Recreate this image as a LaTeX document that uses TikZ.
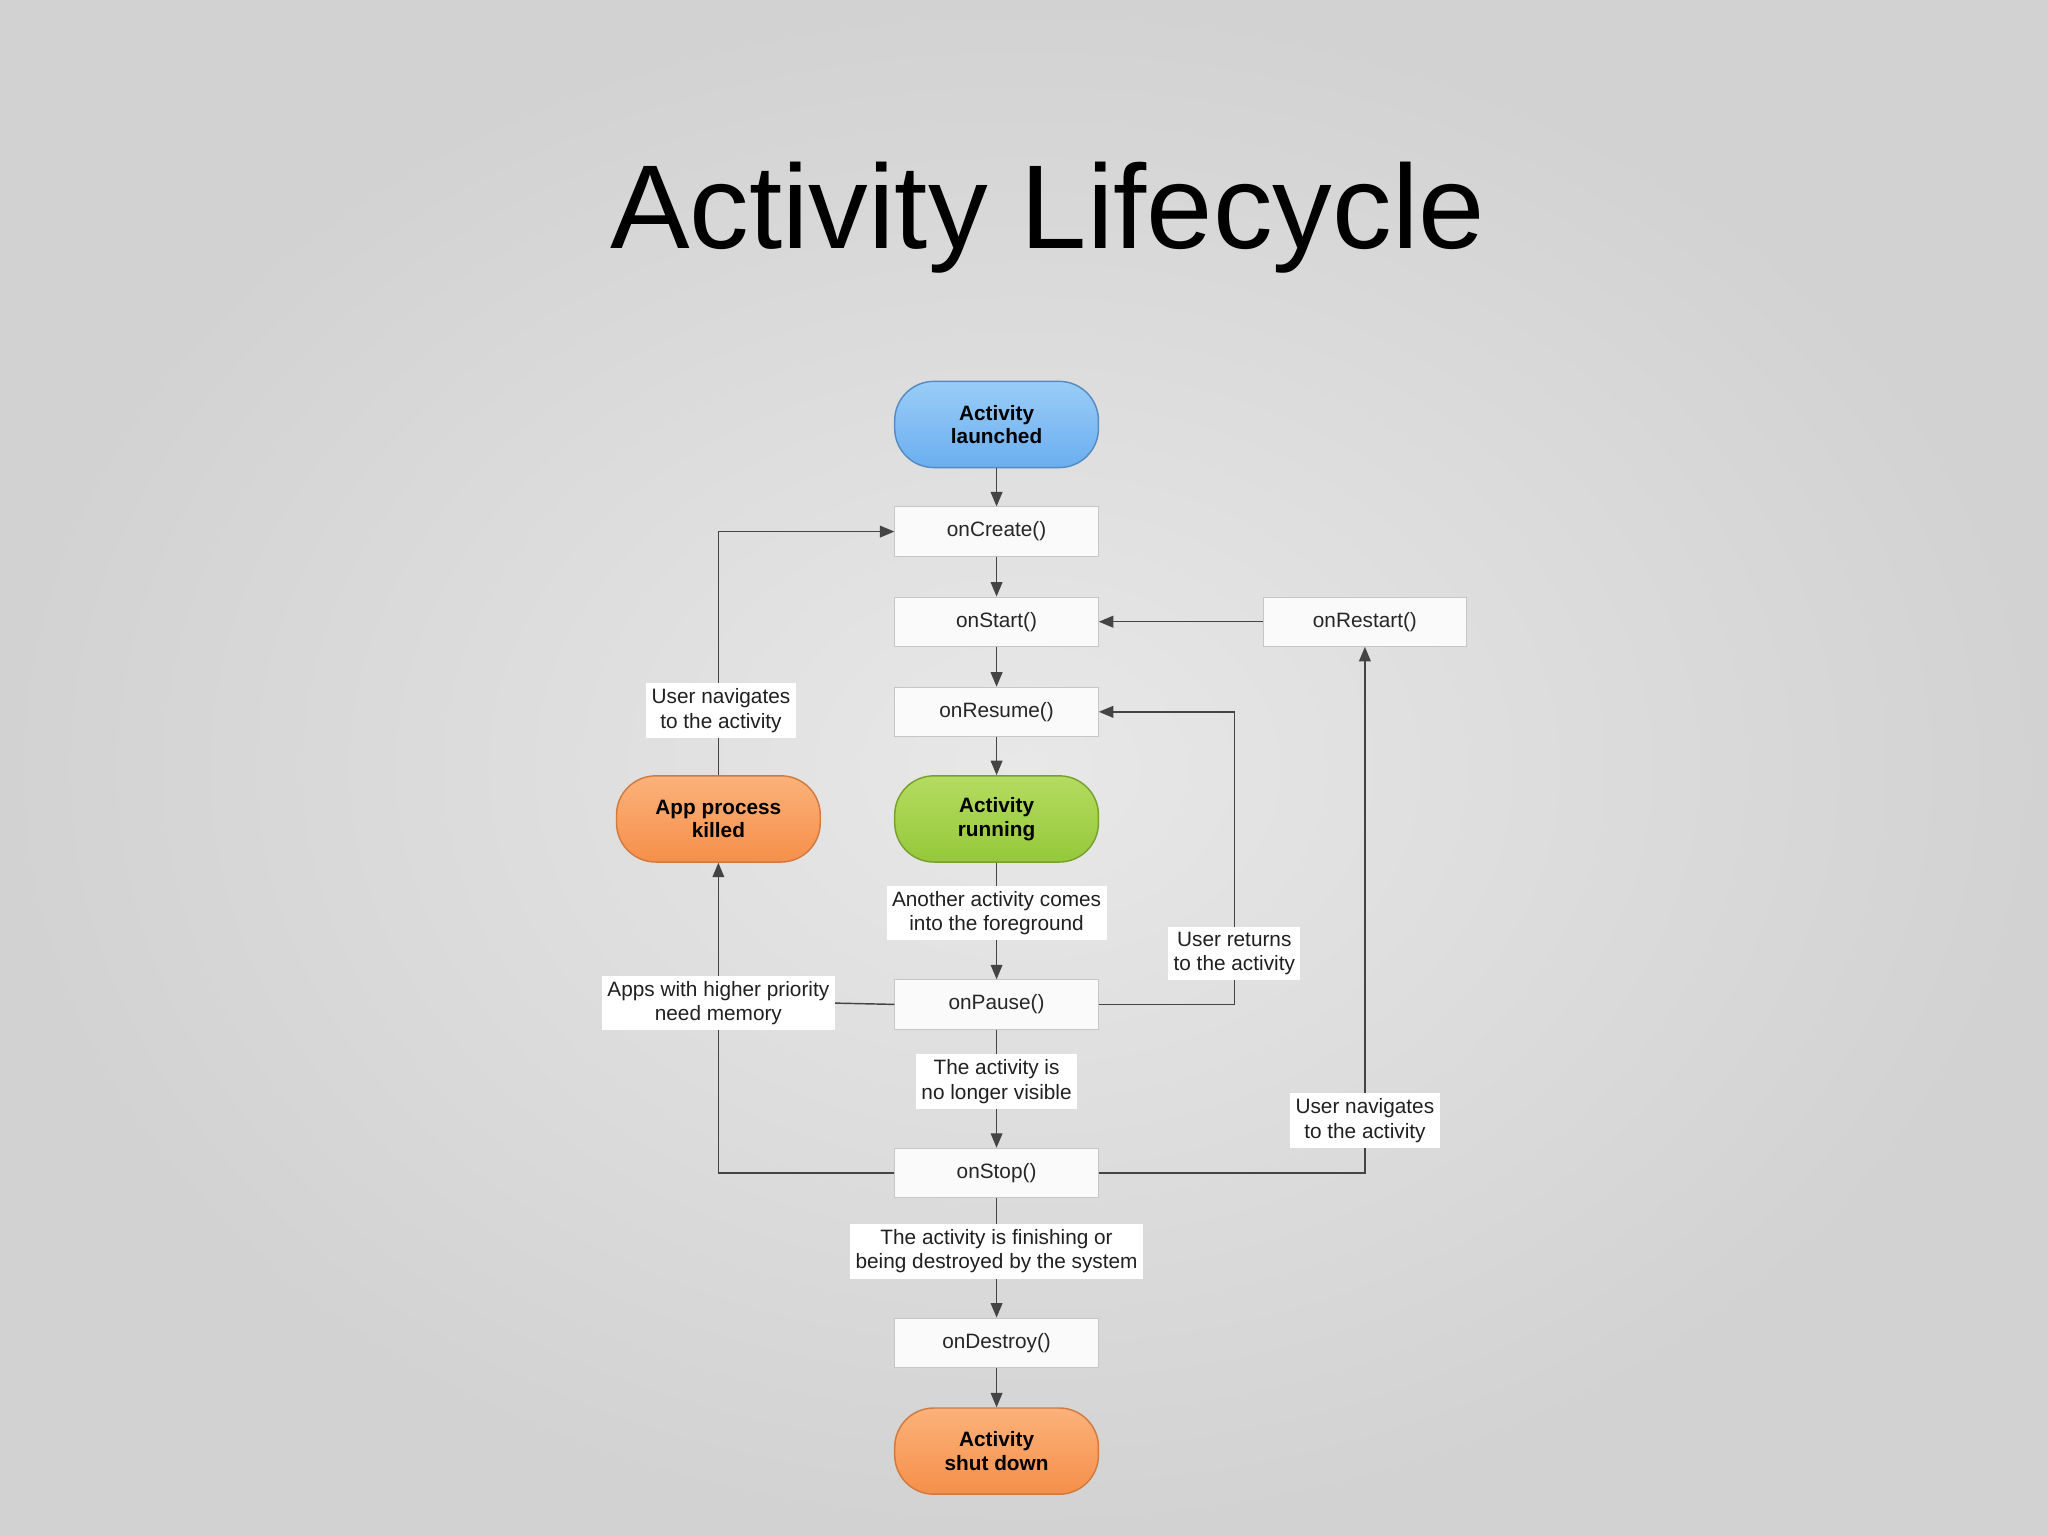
\documentclass[tikz,border=0pt]{standalone}
\usepackage{fontspec}
\setmainfont{Liberation Sans}
\usetikzlibrary{arrows.meta}
\newdimen\px \px=0.254mm
\definecolor{bgc}{HTML}{E8E8E8}
\definecolor{bge}{HTML}{D2D2D2}
\definecolor{ln}{HTML}{444444}
\definecolor{bl1}{HTML}{9ACDF7}
\definecolor{bl2}{HTML}{6AAEF0}
\definecolor{gr1}{HTML}{B4DC60}
\definecolor{gr2}{HTML}{95C83A}
\definecolor{or1}{HTML}{FBB27A}
\definecolor{or2}{HTML}{F68F4A}
\tikzset{
 fn/.style={font=\fontsize{11.5}{13.5}\selectfont},
 cb/.style={fn,draw=gray!45,fill=white!96!gray,text=black!85,minimum width=156\px,minimum height=38\px,inner sep=0pt},
 st/.style={font=\fontsize{11.5}{13}\selectfont\bfseries,align=center,minimum width=156\px,minimum height=66\px,rounded corners=30\px,inner sep=0pt,line width=0.8pt},
 blu/.style={st,draw=bl2!80!black,top color=bl1,bottom color=bl2},
 grn/.style={st,draw=gr2!80!black,top color=gr1,bottom color=gr2},
 org/.style={st,draw=or2!85!black,top color=or1,bottom color=or2},
 lb/.style={fn,fill=white,align=center,text=gray!25!black,inner sep=3pt},
 ar/.style={draw=ln,line width=0.8pt,-{Triangle[length=8pt,width=6.5pt]}},
 pl/.style={draw=ln,line width=0.8pt},
}
\begin{document}
\begin{tikzpicture}[x=0.254mm,y=-0.254mm]
\useasboundingbox (0,0) rectangle (1568,1176);
\shade[inner color=bgc,outer color=bge] (0,0) rectangle (1568,1176);
\node[font=\fontsize{66}{78}\selectfont] (title) at (802,167) {Activity Lifecycle};
\node[blu] (launch) at (763,325) {Activity\\launched};
\node[cb] (create) at (763,407) {onCreate()};
\node[cb] (start) at (763,476) {onStart()};
\node[cb] (resume) at (763,545) {onResume()};
\node[grn] (run) at (763,627) {Activity\\running};
\node[org] (killed) at (550,627) {App process\\killed};
\node[cb] (pause) at (763,769) {onPause()};
\node[cb] (stop) at (763,898) {onStop()};
\node[cb] (destroy) at (763,1028) {onDestroy()};
\node[org] (shut) at (763,1111) {Activity\\shut down};
\node[cb] (restart) at (1045,476) {onRestart()};
\coordinate (k1) at (550,407);
\coordinate (p1) at (945,769);
\coordinate (p2) at (945,545);
\coordinate (s1) at (1045,898);
\coordinate (s2) at (550,898);
\draw[ar] (launch) -- (create);
\draw[ar] (create) -- (start);
\draw[ar] (start) -- (resume);
\draw[ar] (resume) -- (run);
\draw[ar] (run) -- (pause);
\draw[ar] (pause) -- (stop);
\draw[ar] (stop) -- (destroy);
\draw[ar] (destroy) -- (shut);
\draw[ar] (killed.north) -- (k1) -- (create.west);
\draw[ar] (pause.east) -- (p1) -- (p2) -- (resume.east);
\draw[ar] (stop.east) -- (s1) -- (restart.south);
\draw[ar] (restart.west) -- (start.east);
\draw[ar] (stop.west) -- (s2) -- (killed.south);
\node[lb] (l1) at (552,544) {User navigates\\to the activity};
\node[lb] (l2) at (763,699) {Another activity comes\\into the foreground};
\node[lb] (l3) at (945,730) {User returns\\to the activity};
\node[lb] (l4) at (550,768) {Apps with higher priority\\need memory};
\node[lb] (l5) at (763,828) {The activity is\\no longer visible};
\node[lb] (l6) at (1045,858) {User navigates\\to the activity};
\node[lb] (l7) at (763,958) {The activity is finishing or\\being destroyed by the system};
\draw[pl] (pause.west) -- (l4.east);
\end{tikzpicture}
\end{document}
